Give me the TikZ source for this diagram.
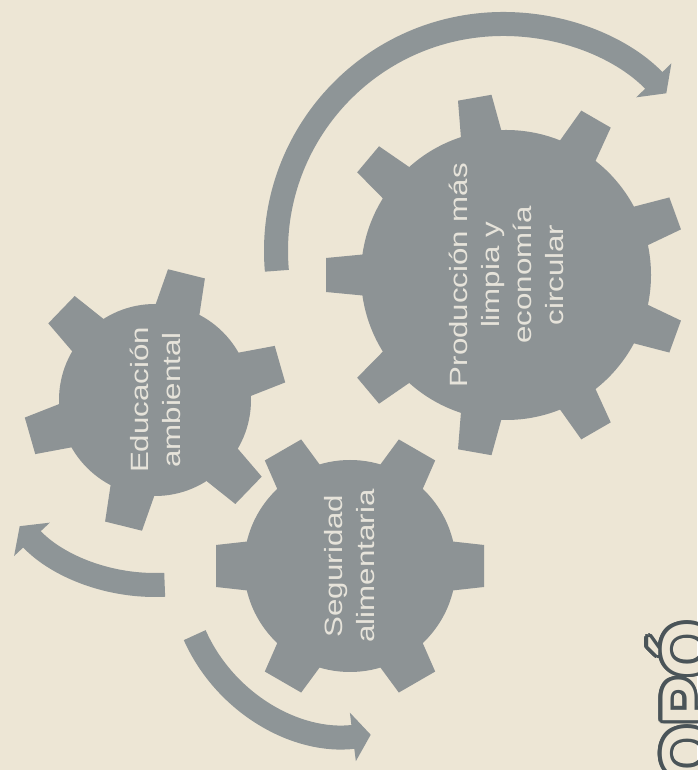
\documentclass[tikz,border=0pt]{standalone}
\usepackage{fontspec}
\setmainfont{Liberation Sans}
\usepackage{contour}
\usetikzlibrary{arrows.meta}
\definecolor{fondo}{HTML}{EDE6D5}
\definecolor{engrane}{HTML}{8D9395}
\definecolor{flechagris}{HTML}{8E9597}
\definecolor{letra}{HTML}{E6E3DA}
\definecolor{logo}{HTML}{4A5458}
\contourlength{3.5pt}

\begin{document}
\begin{tikzpicture}[x=1pt,y=1pt]
\tikzstyle{every node}=[text=letra,align=center,rotate=90,xscale=1.25,font=\fontsize{25}{32}\selectfont]
\tikzstyle{flecha}=[draw=flechagris,line width=24pt,-{Triangle[width=48pt,length=18pt]}]
\fill[fondo] (0,0) rectangle (697,770);
\useasboundingbox (0,0) rectangle (697,770);
\coordinate (g1) at (155,370);
\coordinate (g2) at (350,204);
\coordinate (g3) at (506,495);
\coordinate (arco) at (503,519);
% flechas
\draw[flecha] ([shift={(185:227)}]arco) arc[start angle=185,end angle=44,radius=227];
\draw[flecha] ([shift={(-87:185)}]g1) arc[start angle=-87,end angle=-137,radius=185];
\draw[flecha] ([shift={(204:170)}]g2) arc[start angle=204,end angle=277,radius=170];
% engranes
\fill[engrane] (g1) circle (96);
\foreach \a in {16,76,...,316}
  \fill[engrane,shift={(g1)},rotate=\a] (88,-23) -- (130,-19) -- (130,19) -- (88,23) -- cycle;
\fill[engrane] (g2) circle (106);
\foreach \a in {0,60,...,300}
  \fill[engrane,shift={(g2)},rotate=\a] (98,-25) -- (134,-21) -- (134,21) -- (98,25) -- cycle;
\fill[engrane] (g3) circle (145);
\foreach \a in {20,60,...,340}
  \fill[engrane,shift={(g3)},rotate=\a] (138,-21) -- (180,-17) -- (180,17) -- (138,21) -- cycle;
\node (educ) at (g1) {Educación\\ambiental};
\node (segur) at (g2) {Seguridad\\alimentaria};
\node (produc) at (g3) {Producción más\\limpia y\\economía\\circular};
\tikzstyle{every node}=[rotate=90,font=\fontsize{72}{72}\selectfont\bfseries]
\node[anchor=base west,text=fondo] (marca) at (712,-15) {\contour{logo}{OPÓ}};
\end{tikzpicture}
\end{document}
